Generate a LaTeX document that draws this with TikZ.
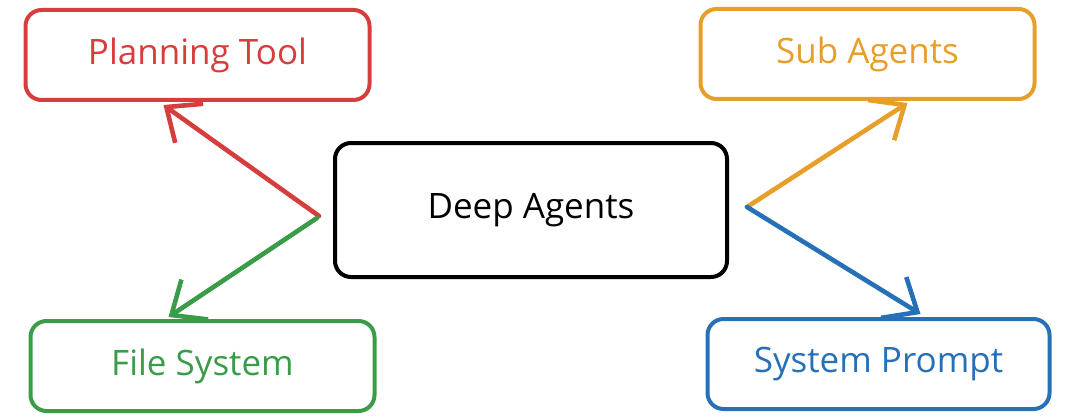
\documentclass[tikz,border=0pt]{standalone}
\usepackage{fontspec}
\setsansfont{Open Sans}
\usepackage{tikz}
\usetikzlibrary{arrows.meta}
\definecolor{toolred}{RGB}{214,62,62}
\definecolor{subamber}{RGB}{232,158,42}
\definecolor{filegreen}{RGB}{58,156,72}
\definecolor{promptblue}{RGB}{38,112,184}
\tikzset{
  box/.style={draw, line width=2pt, rounded corners=8pt, align=center, inner sep=4pt, minimum width=172pt, minimum height=45pt, font=\sffamily\fontsize{17.5}{21}\selectfont},
  hub/.style={box, draw=black, minimum width=196pt, minimum height=67pt},
  arrow/.style={-{Straight Barb[length=14pt,width=24pt,line width=2.3pt]}, line width=2.3pt, line cap=round}
}
\begin{document}
\begin{tikzpicture}[x=0.5pt, y=-0.5pt]
\useasboundingbox (0,0) rectangle (1080,417);
\node[hub] (deep) at (531,210) {Deep Agents};
\node[box, draw=toolred, text=toolred] (plan) at (197.5,55) {Planning Tool};
\node[box, draw=subamber, text=subamber, minimum width=167pt] (sub) at (867.5,54) {Sub Agents};
\node[box, draw=filegreen, text=filegreen] (file) at (202.5,366) {File System};
\node[box, draw=promptblue, text=promptblue, minimum width=171pt] (prompt) at (878.5,364) {System Prompt};
\draw[arrow, toolred] ([xshift=-7pt,yshift=-3pt]deep.west) -- ([xshift=-17pt,yshift=-1.5pt]plan.south);
\draw[arrow, filegreen] ([xshift=-8pt,yshift=-4pt]deep.west) -- ([xshift=-17pt,yshift=1pt]file.north);
\draw[arrow, subamber] ([xshift=9pt,yshift=1.5pt]deep.east) -- ([xshift=20pt,yshift=-1pt]sub.south);
\draw[arrow, promptblue] ([xshift=9pt,yshift=1.5pt]deep.east) -- ([xshift=21pt,yshift=1.5pt]prompt.north);
\end{tikzpicture}
\end{document}
